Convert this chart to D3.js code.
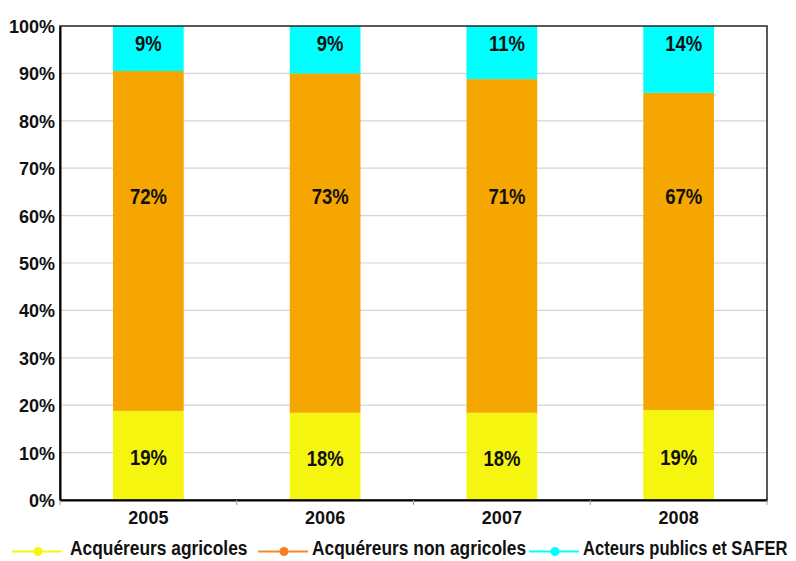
<!DOCTYPE html>
<html>
<head>
<meta charset="utf-8">
<script src="https://cdn.jsdelivr.net/npm/d3@7"></script>
<style>
  body { margin: 0; background: #fff; }
  svg text { font-family: "Liberation Sans", Arial, sans-serif; font-weight: bold; fill: #111; }
</style>
</head>
<body>
<svg width="796" height="561"></svg>
<script>
// years on the x axis
var years = ["2005", "2006", "2007", "2008"];
// shares in percent
var agricoles = [18.8, 18.4, 18.4, 19.0];
var nonAgricoles = [71.7, 71.6, 70.4, 66.9];
var publics = [9.5, 10.0, 11.2, 14.1];
// printed labels (as shown on the chart)
var labelsAgricoles = ["19%", "18%", "18%", "19%"];
var labelsNonAgricoles = ["72%", "73%", "71%", "67%"];
var labelsPublics = ["9%", "9%", "11%", "14%"];
var yTicks = [0, 10, 20, 30, 40, 50, 60, 70, 80, 90, 100];
var seriesNames = ["Acquéreurs agricoles", "Acquéreurs non agricoles", "Acteurs publics et SAFER"];

var svg = d3.select("svg"),
    width = +svg.attr("width"),
    height = +svg.attr("height");

var margin = {top: 26, right: 29, bottom: 61, left: 60};
var x0 = margin.left, x1 = width - margin.right;
var yTop = margin.top, yBottom = height - margin.bottom;

var x = d3.scaleBand()
    .domain(years)
    .range([x0, x1])
    .paddingInner(0.6)
    .paddingOuter(0.3);

var y = d3.scaleLinear()
    .domain([0, 100])
    .range([yBottom, yTop]);

var barColors = ["#f5f510", "#f6a600", "#00ffff"];
var legendLine = ["#f5f510", "#f98a2a", "#00ffff"];
var legendDot = ["#f5f510", "#f57f22", "#00ffff"];

// squeeze text horizontally, the original uses a condensed face
function condense(sel, factor) {
    sel.each(function (d, i) {
        var f = typeof factor === "function" ? factor(d, i) : factor;
        var w = this.getComputedTextLength();
        d3.select(this).attr("textLength", w * f).attr("lengthAdjust", "spacingAndGlyphs");
    });
}

// gridlines
svg.append("g")
    .selectAll("line")
    .data(yTicks.filter(function (d) { return d > 0 && d < 100; }))
    .enter()
    .append("line")
    .attr("x1", x0)
    .attr("x2", x1)
    .attr("y1", function (d) { return y(d); })
    .attr("y2", function (d) { return y(d); })
    .attr("stroke", "#d4d4d4")
    .attr("stroke-width", 1.2);

// stacked data
var table = years.map(function (yr, i) {
    return {year: yr, values: [agricoles[i], nonAgricoles[i], publics[i]],
        labels: [labelsAgricoles[i], labelsNonAgricoles[i], labelsPublics[i]]};
});
var stack = d3.stack()
    .keys([0, 1, 2])
    .value(function (d, k) { return d.values[k]; });
var layers = stack(table);

svg.append("g")
    .selectAll("g")
    .data(layers)
    .enter()
    .append("g")
    .attr("fill", function (d, i) { return barColors[i]; })
    .selectAll("rect")
    .data(function (d) { return d; })
    .enter()
    .append("rect")
    .attr("x", function (d) { return x(d.data.year); })
    .attr("width", x.bandwidth())
    .attr("y", function (d) { return y(Math.min(d[1], 100)); })
    .attr("height", function (d) { return y(d[0]) - y(Math.min(d[1], 100)); });

// value labels
var labelG = svg.append("g").attr("text-anchor", "middle").style("font-size", "22px");
layers.forEach(function (layer, k) {
    labelG.selectAll(null)
        .data(layer)
        .enter()
        .append("text")
        .attr("x", function (d) { return x(d.data.year) + x.bandwidth() / 2 + (k > 0 && d.data.year != "2005" ? 5 : 0); })
        .attr("y", function (d) {
            if (k === 0) return (y(d[0]) + y(d[1])) / 2 + 10;
            if (k === 1) return y(64.2) + 8;
            return y(100) + 25;
        })
        .text(function (d) { return d.data.labels[k]; });
});
condense(labelG.selectAll("text"), 0.84);

// frame
svg.append("rect")
    .attr("x", x0)
    .attr("y", yTop)
    .attr("width", x1 - x0)
    .attr("height", yBottom - yTop)
    .attr("fill", "none")
    .attr("stroke", "#222")
    .attr("stroke-width", 1.5);

// y axis
var yAxis = svg.append("g")
    .attr("transform", "translate(" + x0 + ",0)")
    .call(d3.axisLeft(y).tickValues(yTicks).tickSize(0).tickPadding(5)
        .tickFormat(function (d) { return d + "%"; }));
yAxis.select(".domain").attr("stroke", "#000").attr("stroke-width", 2);
yAxis.selectAll("text").style("font-size", "18px").attr("fill", "#111").attr("dy", "0.36em");

// x axis
var xAxis = svg.append("g")
    .attr("transform", "translate(0," + yBottom + ")")
    .call(d3.axisBottom(x).tickSize(0).tickPadding(11));
xAxis.select(".domain").attr("stroke", "#000").attr("stroke-width", 2);
xAxis.selectAll("text").style("font-size", "18px").attr("fill", "#111");

// category separator ticks
svg.append("g")
    .selectAll("line")
    .data(d3.range(years.length + 1))
    .enter()
    .append("line")
    .attr("x1", function (i) { return x0 + i * x.step(); })
    .attr("x2", function (i) { return x0 + i * x.step(); })
    .attr("y1", yBottom)
    .attr("y2", yBottom + 5)
    .attr("stroke", "#999")
    .attr("stroke-width", 1);

// legend
var legendX = [12, 258, 529];
var legendTextX = [58, 54, 54];
var legend = svg.append("g").attr("transform", "translate(0,551.5)");
var items = legend.selectAll("g")
    .data(seriesNames)
    .enter()
    .append("g")
    .attr("transform", function (d, i) { return "translate(" + legendX[i] + ",0)"; });
items.append("line")
    .attr("x1", 0).attr("x2", 50)
    .attr("stroke", function (d, i) { return legendLine[i]; })
    .attr("stroke-width", 2);
items.append("circle")
    .attr("cx", 26).attr("r", 4.5)
    .attr("fill", function (d, i) { return legendDot[i]; });
var legendText = items.append("text")
    .attr("x", function (d, i) { return legendTextX[i]; })
    .attr("y", 3.5)
    .style("font-size", "19.5px")
    .text(function (d) { return d; });
condense(legendText, function (d, i) { return i === 2 ? 0.85 : 0.89; });
</script>
</body>
</html>
